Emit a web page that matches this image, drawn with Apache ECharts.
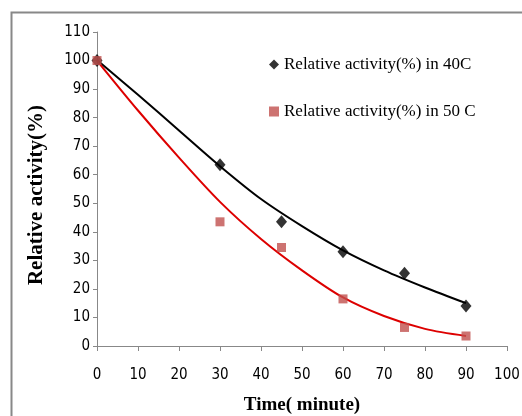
<!DOCTYPE html>
<html>
<head>
<meta charset="utf-8">
<script src="https://cdn.jsdelivr.net/npm/echarts@6/dist/echarts.min.js"></script>
<style>html,body{margin:0;padding:0;background:#fff}#c{width:522px;height:416px}</style>
</head>
<body>
<div id="c"></div>
<script>
// Measured data
const times = [0, 30, 45, 60, 75, 90];
const act40 = [100, 63.5, 43.5, 33, 25.5, 14];
const act50 = [100, 43.5, 34.5, 16.5, 6.5, 3.5];
// Trend lines
const trendX = [0, 10, 20, 30, 40, 50, 60, 70, 80, 90];
const trend40 = [100.2, 88, 75.5, 63, 51.5, 42, 33.5, 26.5, 20.5, 15];
const trend50 = [100, 82.5, 66, 50.5, 37.5, 26.5, 17, 10.5, 6, 3.5];
const xTicks = [0, 10, 20, 30, 40, 50, 60, 70, 80, 90, 100];
const yTicks = [0, 10, 20, 30, 40, 50, 60, 70, 80, 90, 100, 110];
const name40 = 'Relative activity(%) in 40C';
const name50 = 'Relative activity(%) in 50 C';
const xTitle = 'Time( minute)';
const yTitle = 'Relative activity(%)';

const pair = (xs, ys) => xs.map((x, i) => [x, ys[i]]);
const tickFont = '"DejaVu Sans Condensed", "Liberation Sans Narrow", "Liberation Sans", sans-serif';
const serif = '"Liberation Serif", "Times New Roman", serif';

const chart = echarts.init(document.getElementById('c'), null, {renderer: 'canvas'});
chart.setOption({
  animation: false,
  backgroundColor: '#fff',
  graphic: [{
    type: 'rect', left: 9, top: 10, silent: true, z: -1,
    shape: {x: 0, y: 0, width: 540, height: 440},
    style: {fill: 'none', stroke: '#888', lineWidth: 2}
  }, {
    type: 'text', x: 37, y: 195, rotation: Math.PI / 2, silent: true,
    style: {text: yTitle, fontFamily: serif, fontWeight: 'bold', fontSize: 21, fill: '#000',
            align: 'center', verticalAlign: 'middle'}
  }, {
    type: 'text', x: 302, y: 405, silent: true,
    style: {text: xTitle, fontFamily: serif, fontWeight: 'bold', fontSize: 19, fill: '#000',
            align: 'center', verticalAlign: 'middle'}
  }],
  grid: {left: 97, right: 15, top: 32, bottom: 70, containLabel: false, outerBoundsMode: 'none'},
  legend: {
    orient: 'vertical', left: 264, top: 51, itemGap: 30,
    itemWidth: 10, itemHeight: 10,
    data: [{name: name40, icon: 'diamond'}, {name: name50, icon: 'rect', itemStyle: {color: '#C0504D'}}],
    textStyle: {fontFamily: serif, fontSize: 17, color: '#000'}
  },
  xAxis: {
    type: 'value', min: xTicks[0], max: xTicks[xTicks.length - 1], interval: 10,
    axisLine: {show: true, lineStyle: {color: '#888', width: 1}},
    axisTick: {show: true, length: 5, inside: false, lineStyle: {color: '#888'}},
    axisLabel: {margin: 22, fontFamily: tickFont, fontSize: 15, color: '#000'},
    splitLine: {show: false}
  },
  yAxis: {
    type: 'value', min: yTicks[0], max: yTicks[yTicks.length - 1], interval: 10,
    axisLine: {show: true, lineStyle: {color: '#888', width: 1}},
    axisTick: {show: true, length: 4, lineStyle: {color: '#888'}},
    axisLabel: {margin: 7, fontFamily: tickFont, fontSize: 15, color: '#000'},
    splitLine: {show: false}
  },
  series: [
    {type: 'line', name: 'trend40', data: pair(trendX, trend40), smooth: 0.3, symbol: 'none',
     lineStyle: {color: '#000', width: 2}, z: 2, silent: true},
    {type: 'line', name: 'trend50', data: pair(trendX, trend50), smooth: 0.3, symbol: 'none',
     lineStyle: {color: '#DD0000', width: 2}, z: 2, silent: true},
    {type: 'scatter', name: name40, data: pair(times, act40), symbol: 'diamond', symbolSize: [11, 13],
     itemStyle: {color: '#000'}, z: 3},
    {type: 'scatter', name: name50, data: pair(times, act50), symbol: 'rect', symbolSize: 9,
     itemStyle: {color: '#C0504D'}, z: 4}
  ]
});
</script>
</body>
</html>
